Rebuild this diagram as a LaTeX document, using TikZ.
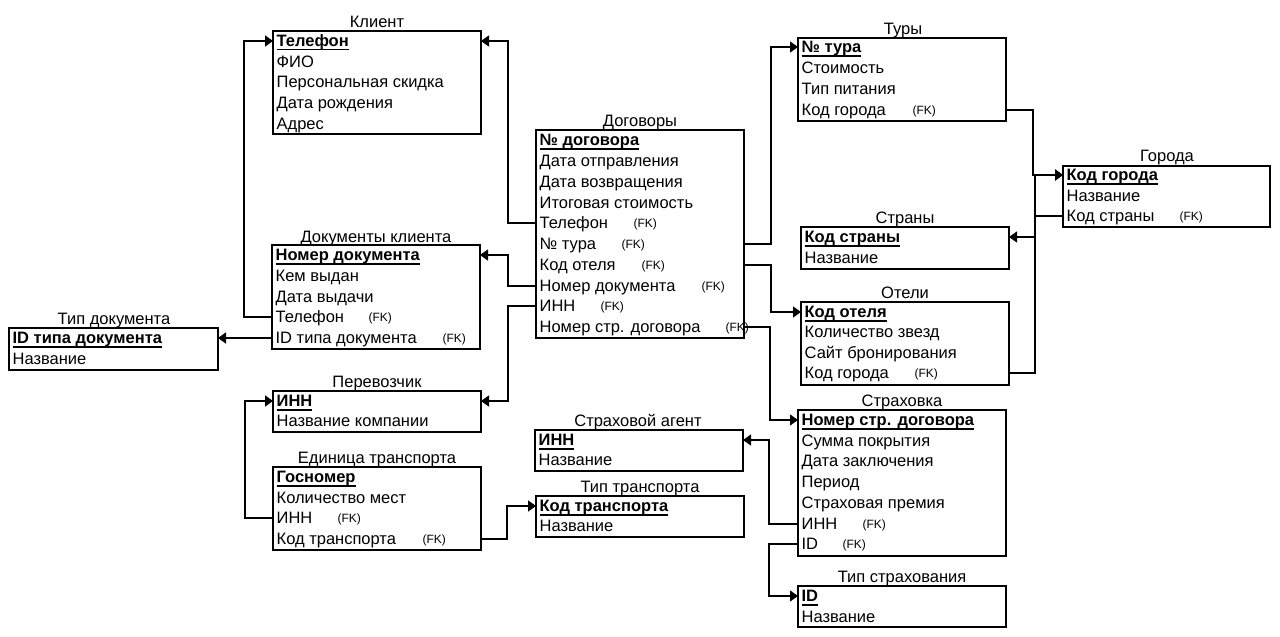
\documentclass[tikz,border=0pt]{standalone}
\usepackage{fontspec}
\setmainfont{Liberation Sans}
\usetikzlibrary{arrows.meta}

\tikzset{every picture/.style={line width=1.3pt}}
\tikzset{
  tbl/.style={draw, line width=1.5pt, rectangle, anchor=north west, inner sep=0pt, outer sep=0pt},
  ttl/.style={inner sep=0pt, text height=11.8pt, text depth=0pt},
  fld/.style={anchor=west, inner sep=0pt, text height=11.8pt, text depth=0pt},
  fk/.style={anchor=west, inner sep=0pt, text height=8.6pt, text depth=0pt, font=\fontsize{12}{14}\selectfont},
  rel/.style={-{Triangle[length=8pt,width=11pt]}, line width=1.4pt},
}
\newsavebox{\pkbox}
\newcommand{\pk}[1]{\sbox{\pkbox}{\textbf{#1}}\rlap{\vrule height -2.2pt depth 3.6pt width \wd\pkbox}\usebox{\pkbox}}

\begin{document}
\begin{tikzpicture}[x=1pt,y=1pt,yscale=-1,xscale=1,font=\fontsize{16.5}{19}\selectfont]
	\useasboundingbox (0,0) rectangle (1280,637);

	%Table: Клиент
	\node [tbl, minimum width=208pt, minimum height=103pt] (kl) at (273,31) {};
	\node [ttl] (klt) at (377,22) {Клиент};
	\node [fld] (kltel) at (276,41) {\pk{Телефон}};
	\node [fld] (klfio) at (276,62) {ФИО};
	\node [fld] (klsk) at (276,82) {Персональная скидка};
	\node [fld] (kldr) at (276,103) {Дата рождения};
	\node [fld] (kladr) at (276,124) {Адрес};

	%Table: Документы клиента
	\node [tbl, minimum width=208pt, minimum height=104pt] (dk) at (272,245) {};
	\node [ttl] (dkt) at (376,237) {Документы клиента};
	\node [fld] (dknom) at (275,255) {\pk{Номер документа}};
	\node [fld] (dkkem) at (275,276) {Кем выдан};
	\node [fld] (dkdat) at (275,297) {Дата выдачи};
	\node [fld] (dktel) at (275,317) {Телефон};
	\node [fk] (dktelfk) at (368,317) {(FK)};
	\node [fld] (dkid) at (275,338) {ID типа документа};
	\node [fk] (dkidfk) at (442,338) {(FK)};

	%Table: Тип документа
	\node [tbl, minimum width=209pt, minimum height=42pt] (td) at (9,328) {};
	\node [ttl] (tdt) at (114,319) {Тип документа};
	\node [fld] (tdid) at (12,338) {\pk{ID типа документа}};
	\node [fld] (tdnaz) at (12,359) {Название};

	%Table: Перевозчик
	\node [tbl, minimum width=208pt, minimum height=41pt] (pv) at (273,391) {};
	\node [ttl] (pvt) at (377,382) {Перевозчик};
	\node [fld] (pvinn) at (276,401) {\pk{ИНН}};
	\node [fld] (pvnaz) at (276,421) {Название компании};

	%Table: Единица транспорта
	\node [tbl, minimum width=208pt, minimum height=83pt] (et) at (273,467) {};
	\node [ttl] (ett) at (377,458) {Единица транспорта};
	\node [fld] (etgos) at (276,477) {\pk{Госномер}};
	\node [fld] (etkol) at (276,498) {Количество мест};
	\node [fld] (etinn) at (276,518) {ИНН};
	\node [fk] (etinnfk) at (337,518) {(FK)};
	\node [fld] (etkod) at (276,539) {Код транспорта};
	\node [fk] (etkodfk) at (422,539) {(FK)};

	%Table: Договоры
	\node [tbl, minimum width=208pt, minimum height=208pt] (dg) at (536,130) {};
	\node [ttl] (dgt) at (640,121) {Договоры};
	\node [fld] (dgnom) at (539,140) {\pk{№ договора}};
	\node [fld] (dgotp) at (539,161) {Дата отправления};
	\node [fld] (dgvoz) at (539,182) {Дата возвращения};
	\node [fld] (dgst) at (539,203) {Итоговая стоимость};
	\node [fld] (dgtel) at (539,223) {Телефон};
	\node [fk] (dgtelfk) at (633,223) {(FK)};
	\node [fld] (dgtur) at (539,244) {№ тура};
	\node [fk] (dgturfk) at (621,244) {(FK)};
	\node [fld] (dgotel) at (539,265) {Код отеля};
	\node [fk] (dgotelfk) at (641,265) {(FK)};
	\node [fld] (dgdoc) at (539,286) {Номер документа};
	\node [fk] (dgdocfk) at (701,286) {(FK)};
	\node [fld] (dginn) at (539,306) {ИНН};
	\node [fk] (dginnfk) at (600,306) {(FK)};
	\node [fld] (dgstr) at (539,327) {Номер стр. договора};
	\node [fk] (dgstrfk) at (725,327) {(FK)};

	%Table: Страховой агент
	\node [tbl, minimum width=208pt, minimum height=41pt] (sa) at (535,430) {};
	\node [ttl] (sat) at (638,421) {Страховой агент};
	\node [fld] (sainn) at (538,440) {\pk{ИНН}};
	\node [fld] (sanaz) at (538,460) {Название};

	%Table: Тип транспорта
	\node [tbl, minimum width=208pt, minimum height=41pt] (tt) at (536,496) {};
	\node [ttl] (ttt) at (640,487) {Тип транспорта};
	\node [fld] (ttkod) at (539,506) {\pk{Код транспорта}};
	\node [fld] (ttnaz) at (539,526) {Название};

	%Table: Туры
	\node [tbl, minimum width=208pt, minimum height=83pt] (tu) at (798,38) {};
	\node [ttl] (tut) at (903,29) {Туры};
	\node [fld] (tunom) at (801,47) {\pk{№ тура}};
	\node [fld] (tust) at (801,68) {Стоимость};
	\node [fld] (tupit) at (801,89) {Тип питания};
	\node [fld] (tukod) at (801,110) {Код города};
	\node [fk] (tukodfk) at (912,110) {(FK)};

	%Table: Страны
	\node [tbl, minimum width=208pt, minimum height=42pt] (st) at (801,227) {};
	\node [ttl] (stt) at (905,218) {Страны};
	\node [fld] (stkod) at (804,237) {\pk{Код страны}};
	\node [fld] (stnaz) at (804,258) {Название};

	%Table: Отели
	\node [tbl, minimum width=208pt, minimum height=83pt] (ot) at (801,302) {};
	\node [ttl] (ott) at (905,293) {Отели};
	\node [fld] (otkod) at (804,312) {\pk{Код отеля}};
	\node [fld] (otzv) at (804,332) {Количество звезд};
	\node [fld] (otsait) at (804,353) {Сайт бронирования};
	\node [fld] (otgor) at (804,373) {Код города};
	\node [fk] (otgorfk) at (914,373) {(FK)};

	%Table: Города
	\node [tbl, minimum width=207pt, minimum height=61pt] (gr) at (1063,166) {};
	\node [ttl] (grt) at (1167,156) {Города};
	\node [fld] (grkod) at (1066,175) {\pk{Код города}};
	\node [fld] (grnaz) at (1066,196) {Название};
	\node [fld] (grstr) at (1066,216) {Код страны};
	\node [fk] (grstrfk) at (1179,216) {(FK)};

	%Table: Страховка
	\node [tbl, minimum width=208pt, minimum height=146pt] (sh) at (798,410) {};
	\node [ttl] (sht) at (902,401) {Страховка};
	\node [fld] (shnom) at (801,420) {\pk{Номер стр. договора}};
	\node [fld] (shsum) at (801,441) {Сумма покрытия};
	\node [fld] (shdat) at (801,461) {Дата заключения};
	\node [fld] (shper) at (801,482) {Период};
	\node [fld] (shpr) at (801,503) {Страховая премия};
	\node [fld] (shinn) at (801,524) {ИНН};
	\node [fk] (shinnfk) at (862,524) {(FK)};
	\node [fld] (shid) at (801,544) {ID};
	\node [fk] (shidfk) at (842,544) {(FK)};

	%Table: Тип страхования
	\node [tbl, minimum width=208pt, minimum height=41pt] (ts) at (798,586) {};
	\node [ttl] (tst) at (902,577) {Тип страхования};
	\node [fld] (tsid) at (801,596) {\pk{ID}};
	\node [fld] (tsnaz) at (801,617) {Название};

	%Links
	\draw [rel] (dgtel -| dg.west) -- ++(-28,0) |- (kltel -| kl.east);
	\draw [rel] (dktel -| dk.west) -- ++(-28,0) |- (kltel -| kl.west);
	\draw [rel] (dkid -| dk.west) -- (tdid -| td.east);
	\draw [rel] (dgdoc -| dg.west) -- ++(-28,0) |- (dknom -| dk.east);
	\draw [rel] (dginn -| dg.west) -- ++(-28,0) |- (pvinn -| pv.east);
	\draw [rel] (etinn -| et.west) -- ++(-28,0) |- (pvinn -| pv.west);
	\draw [rel] (etkod -| et.east) -- ++(26,0) |- (ttkod -| tt.west);
	\draw [rel] (dgtur -| dg.east) -- ++(27,0) |- (tunom -| tu.west);
	\draw [rel] (dgotel -| dg.east) -- ++(27,0) |- (otkod -| ot.west);
	\draw [rel] (dgstr -| dg.east) -- ++(26,0) |- (shnom -| sh.west);
	\draw [rel] (shinn -| sh.west) -- ++(-29,0) |- (sainn -| sa.east);
	\draw [rel] (shid -| sh.west) -- ++(-29,0) |- (tsid -| ts.west);
	\draw [rel] (tukod -| tu.east) -- ++(27,0) |- (grkod -| gr.west);
	\draw [rel] (otgor -| ot.east) -- ++(26,0) |- (grkod -| gr.west);
	\draw [rel] (grstr -| gr.west) -- ++(-28,0) |- (stkod -| st.east);
\end{tikzpicture}
\end{document}
